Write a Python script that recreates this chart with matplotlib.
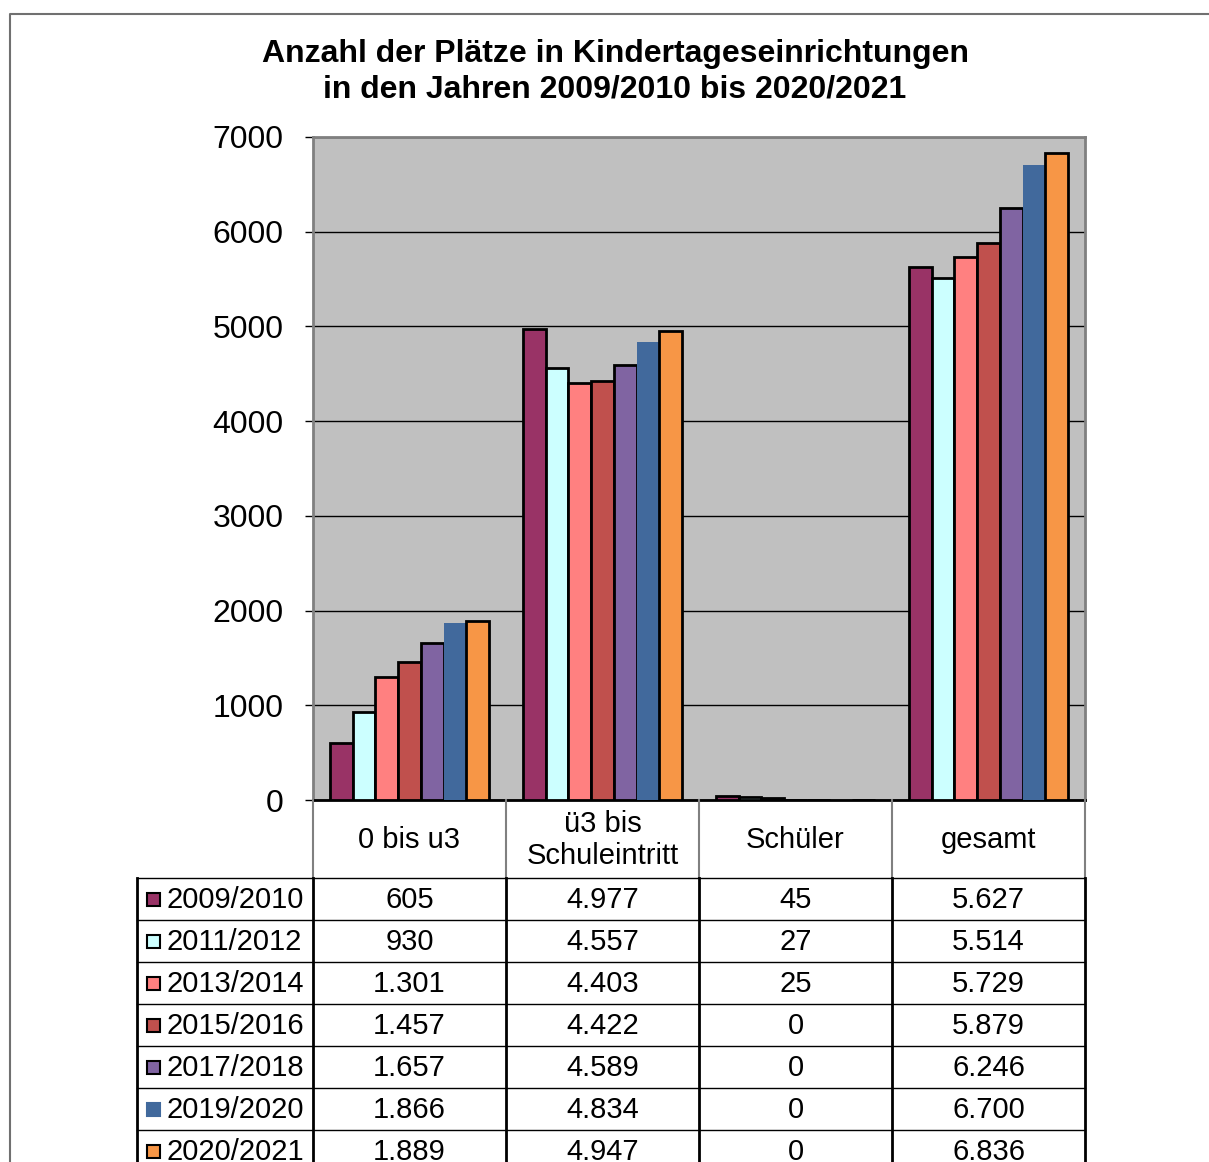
import numpy as np
import matplotlib.pyplot as plt
from matplotlib.patches import Rectangle

plt.rcParams['font.family'] = ['Liberation Sans', 'DejaVu Sans']

categories = ["0 bis u3", "ü3 bis\nSchuleintritt", "Schüler", "gesamt"]
years = ["2009/2010", "2011/2012", "2013/2014", "2015/2016",
         "2017/2018", "2019/2020", "2020/2021"]
v_2009 = [605, 4977, 45, 5627]
v_2011 = [930, 4557, 27, 5514]
v_2013 = [1301, 4403, 25, 5729]
v_2015 = [1457, 4422, 0, 5879]
v_2017 = [1657, 4589, 0, 6246]
v_2019 = [1866, 4834, 0, 6700]
v_2020 = [1889, 4947, 0, 6836]
series = [v_2009, v_2011, v_2013, v_2015, v_2017, v_2019, v_2020]
colors = ["#993366", "#CCFFFF", "#FF8080", "#C0504D", "#8064A2", "#41699C", "#F79646"]
edges = ["black"] * 5 + ["none", "black"]
yticks = [0, 1000, 2000, 3000, 4000, 5000, 6000, 7000]

W, H = 1209, 1162
fig = plt.figure(figsize=(W / 100, H / 100), dpi=100)

# plot area in pixel coords
px_l, px_r, px_t, px_b = 313, 1085, 137, 800
ax = fig.add_axes([px_l / W, (H - px_b) / H, (px_r - px_l) / W, (px_b - px_t) / H])
ax.set_facecolor("#C0C0C0")
ax.set_xlim(-0.5, 3.5)
ax.set_ylim(0, 7000)
ax.set_yticks(yticks)
ax.set_yticklabels([str(t) for t in yticks], fontsize=23)
ax.tick_params(axis="y", length=6, width=1, pad=15, colors="black")
ax.set_xticks([])
ax.yaxis.grid(True, color="black", linewidth=1)
ax.set_axisbelow(True)
for s in ["left", "right", "top"]:
    ax.spines[s].set_color("#808080")
    ax.spines[s].set_linewidth(2)
ax.spines["bottom"].set_color("black")
ax.spines["bottom"].set_linewidth(2)

w = 0.1175
x = np.arange(len(categories))
for i, vals in enumerate(series):
    ax.bar(x + (i - 3) * w, vals, width=w, color=colors[i],
           edgecolor=edges[i], linewidth=2 if edges[i] != "none" else 0, zorder=3)

# overlay for table, title and border
ov = fig.add_axes([0, 0, 1, 1], facecolor="none")
ov.set_xlim(0, W)
ov.set_ylim(H, 0)
ov.axis("off")

# outer chart border
ov.plot([10, 10, W], [H, 14, 14], color="#707070", linewidth=1.5)

ov.text(615, 72, "Anzahl der Plätze in Kindertageseinrichtungen\nin den Jahren 2009/2010 bis 2020/2021",
        ha="center", va="center", fontsize=23, fontweight="bold", linespacing=1.25)

cols = [313, 506, 699, 892, 1085]
hdr_bot = 878
row_h = 42
# header row
for cx in cols:
    ov.plot([cx, cx], [px_b, hdr_bot], color="#808080", linewidth=1.5)
for j, c in enumerate(categories):
    ov.text((cols[j] + cols[j + 1]) / 2, (px_b + hdr_bot) / 2 + 1, c,
            ha="center", va="center", fontsize=21, linespacing=1.2)

# body
n = len(years)
bottom = hdr_bot + row_h * n
for k in range(n + 1):
    ov.plot([137, 1085], [hdr_bot + k * row_h] * 2, color="black", linewidth=1)
for cx in [137] + cols:
    ov.plot([cx, cx], [hdr_bot, bottom], color="black", linewidth=2)

for i, yr in enumerate(years):
    cy = hdr_bot + row_h * i + row_h / 2
    ov.add_patch(Rectangle((147, cy - 6.5), 13, 13, facecolor=colors[i],
                           edgecolor="black" if edges[i] != "none" else colors[i], linewidth=1.5))
    ov.text(166, cy + 1, yr, ha="left", va="center", fontsize=21)
    for j in range(len(categories)):
        txt = f"{series[i][j]:,}".replace(",", ".")
        ov.text((cols[j] + cols[j + 1]) / 2, cy + 1, txt, ha="center", va="center", fontsize=21)

fig.savefig("out.png", dpi=100)
